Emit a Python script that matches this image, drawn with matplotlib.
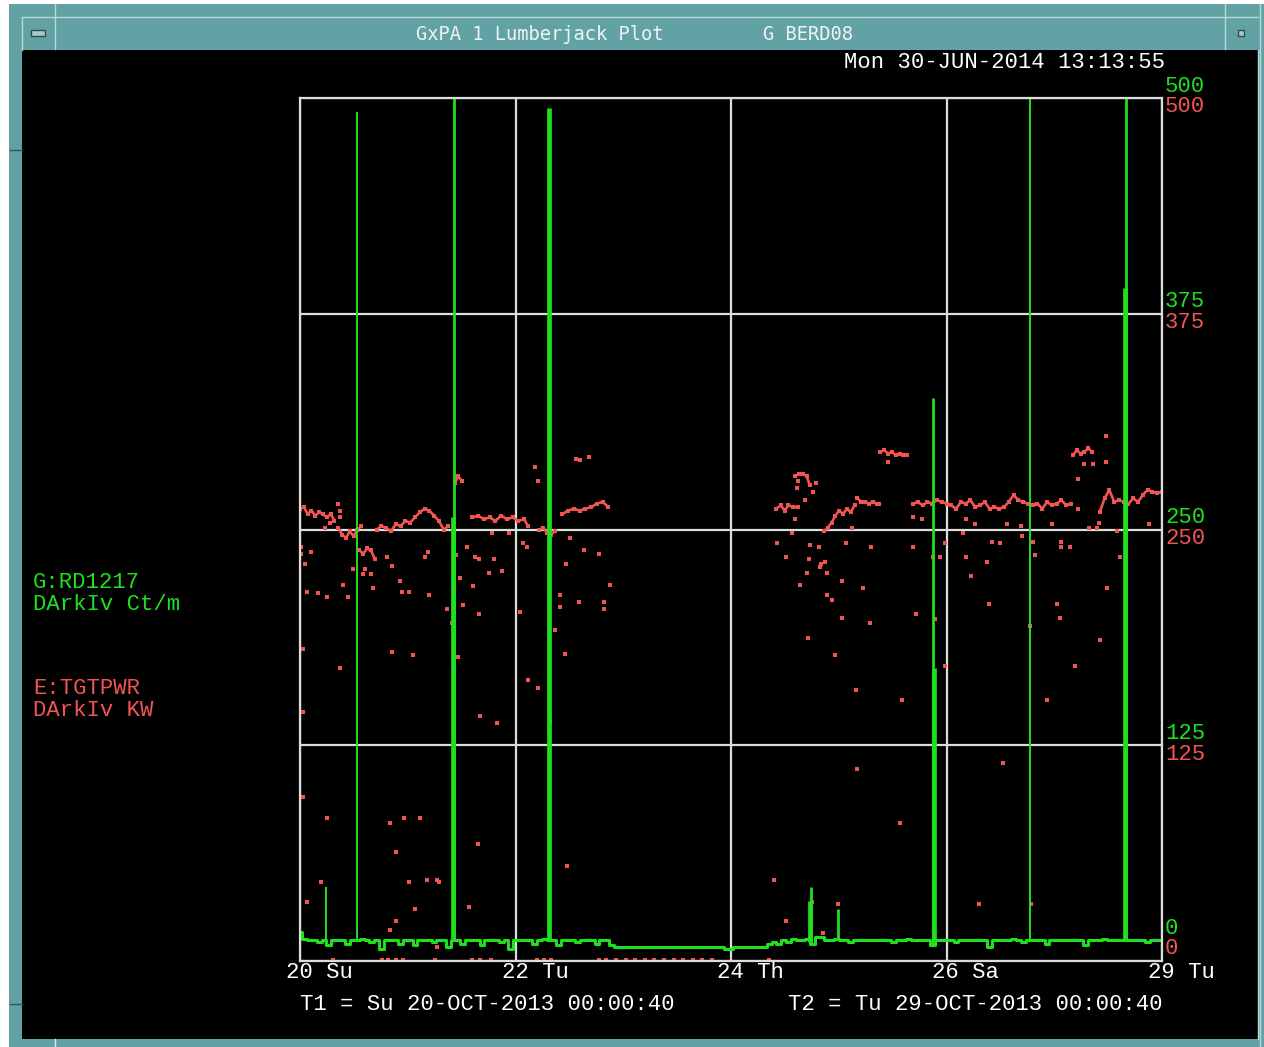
import numpy as np
import matplotlib.pyplot as plt
from matplotlib.patches import Rectangle

# ---- data : time in days after T1 (Su 20-OCT-2013 00:00:40), 9 days span
x_ticks = [0, 2.25, 4.5, 6.75, 9]
x_labels = ["20 Su", "22 Tu", "24 Th", "26 Sa", "29 Tu"]
y_ticks = [0, 125, 250, 375, 500]

# G:RD1217 baseline, one sample every 0.05 day
base_v = [17, 13, 12, 12, 11, 12, 9, 12, 12, 12, 10, 12, 12, 13, 12, 11, 12, 7, 12, 12,
          12, 10, 12, 12, 9, 12, 12, 12, 11, 12, 12, 8, 12, 12, 10, 12, 12, 12, 9, 12,
          12, 12, 11, 12, 7, 12, 12, 12, 12, 10, 12, 13, 12, 12, 9, 12, 12, 12, 11, 12,
          12, 12, 10, 12, 12, 9, 8, 8, 8, 8, 8, 8, 8, 8, 8, 8, 8, 8, 8, 8,
          8, 8, 8, 8, 8, 8, 8, 8, 8, 7, 7, 8, 8, 8, 8, 8, 8, 8, 10, 11,
          10, 12, 11, 13, 12, 12, 13, 10, 14, 14, 12, 12, 13, 12, 12, 11, 12, 12, 12, 12,
          12, 12, 12, 12, 11, 12, 12, 13, 12, 12, 12, 12, 9, 12, 12, 12, 12, 11, 12, 12,
          12, 12, 12, 12, 8, 12, 12, 12, 12, 13, 12, 11, 12, 12, 12, 12, 10, 12, 12, 12,
          12, 12, 12, 12, 9, 12, 12, 12, 13, 12, 12, 12, 12, 12, 12, 12, 12, 11, 12, 12,
          12]
base_t = np.arange(len(base_v)) * 0.05

# spikes of G:RD1217
spk_thin_t = [0.27, 0.60, 7.62]
spk_thin_v = [43, 492, 520]
spk_mid_t = [1.61, 5.34, 5.62, 6.61, 8.62]
spk_mid_v = [520, 43, 30, 326, 520]
spk_wide_t = [1.60, 2.60, 5.33, 6.62, 8.61]
spk_wide_v = [257, 494, 35, 170, 390]

# E:TGTPWR traces (runs of consecutive samples)
red_seg_t = [
    [0.00, 0.04, 0.08, 0.12, 0.16, 0.20, 0.24, 0.28, 0.32, 0.36],
    [0.40, 0.44, 0.48, 0.52, 0.56, 0.60, 0.64],
    [0.62, 0.66, 0.70, 0.74, 0.78],
    [0.80, 0.85, 0.90, 0.95, 1.00, 1.05, 1.10, 1.15, 1.20, 1.25, 1.30, 1.35, 1.40, 1.45, 1.50, 1.55],
    [1.62, 1.65, 1.69],
    [1.80, 1.86, 1.92, 1.98, 2.04, 2.10, 2.16, 2.22, 2.28, 2.34, 2.38],
    [2.50, 2.54, 2.58, 2.62, 2.66],
    [2.74, 2.80, 2.86, 2.92, 2.98, 3.04, 3.10, 3.16, 3.22],
    [2.88, 2.92],
    [4.97, 5.02, 5.06, 5.10, 5.15, 5.20],
    [5.17, 5.21, 5.25, 5.29, 5.32],
    [5.47, 5.51, 5.55, 5.59, 5.63, 5.67, 5.71, 5.75, 5.79],
    [5.82, 5.86, 5.90, 5.94, 5.98, 6.02, 6.05],
    [6.06, 6.10, 6.14, 6.18, 6.22, 6.26, 6.30, 6.34],
    [6.40, 6.45, 6.50, 6.55, 6.60, 6.65, 6.70, 6.75, 6.80, 6.85, 6.90, 6.95, 7.00, 7.05, 7.10,
     7.15, 7.20, 7.25, 7.30, 7.35, 7.40, 7.45, 7.50, 7.55, 7.60, 7.65, 7.70, 7.75, 7.80, 7.85,
     7.90, 7.95, 8.00, 8.05],
    [8.07, 8.11, 8.15, 8.19, 8.23, 8.27],
    [8.35, 8.40, 8.45, 8.50, 8.55, 8.60, 8.65, 8.70, 8.75, 8.80, 8.85, 8.90, 8.95, 9.00],
]
red_seg_v = [
    [262, 263, 259, 261, 258, 260, 259, 257, 259, 255],
    [251, 247, 245, 249, 246, 250, 252],
    [238, 236, 239, 238, 233],
    [250, 252, 251, 249, 253, 252, 255, 254, 257, 260, 262, 261, 258, 255, 250, 252],
    [277, 281, 278],
    [257, 258, 256, 257, 255, 258, 256, 257, 255, 256, 252],
    [250, 251, 248, 247, 249],
    [259, 261, 262, 261, 262, 263, 265, 266, 263],
    [291, 290],
    [262, 264, 261, 264, 263, 263],
    [281, 282, 282, 281, 276],
    [249, 251, 254, 258, 261, 259, 262, 260, 264],
    [268, 266, 266, 265, 266, 265, 265],
    [295, 296, 294, 295, 293, 294, 293, 293],
    [265, 266, 264, 266, 265, 267, 266, 265, 264, 262, 266, 265, 267, 263, 264,
     266, 262, 263, 262, 263, 266, 270, 267, 266, 265, 264, 265, 262, 266, 264,
     265, 267, 264, 265],
    [293, 296, 294, 295, 297, 295],
    [260, 268, 273, 266, 267, 266, 265, 268, 266, 270, 273, 272, 271, 272],
]

# E:TGTPWR isolated samples
red_dot_t = [0.01, 0.01, 0.40, 0.42, 0.42, 0.31, 0.26, 0.11, 0.05, 0.45, 0.07, 0.19, 0.28, 0.50,
             0.55, 0.74, 0.76, 0.91, 0.96, 1.04, 1.06, 1.14, 1.30, 1.34, 1.35, 1.54, 1.63, 1.67,
             1.70, 1.74, 1.81, 1.83, 1.87, 1.87, 1.97, 2.03, 2.11, 2.00, 2.18, 2.33, 2.37, 2.82,
             2.78, 2.97, 3.12, 3.24, 2.71, 2.71, 2.91, 3.17, 3.17, 2.45, 2.48, 3.02, 0.68, 0.66,
             0.03, 0.03, 0.42, 0.96, 1.18, 1.59, 1.65, 1.88, 2.06, 2.38, 2.30, 2.66, 2.77, 2.48,
             2.61, 0.03, 0.28, 0.94, 1.09, 1.25, 1.00, 1.43, 1.86, 1.20, 0.94, 2.79, 0.07, 0.22,
             1.00, 1.14, 1.33, 1.45, 1.76, 1.43,
             4.98, 5.07, 5.22, 5.17, 5.27, 5.19, 5.20, 5.39, 5.36, 5.33, 5.42, 5.31, 5.43, 5.44,
             5.48, 5.29, 5.50, 5.66, 5.50, 5.55, 5.66, 5.14, 5.70, 5.76, 5.88, 5.96, 6.40, 6.43,
             6.61, 6.68, 6.73, 6.92, 6.95, 7.17, 7.01, 7.19, 7.23, 7.31, 7.54, 7.65, 7.67, 7.90,
             7.94, 7.95, 7.95, 8.04, 8.43, 8.56, 8.86, 8.24, 8.32, 8.53, 8.12, 8.42, 8.42, 8.19,
             8.28, 6.14, 8.34, 7.85, 7.05, 6.95, 8.12, 6.40, 6.49, 7.38, 7.53,
             5.30, 5.59, 5.80, 5.95, 5.82, 6.26, 6.29, 6.63, 6.73, 7.34, 7.62, 7.80, 8.09, 8.35,
             4.95, 5.07, 5.35, 5.46, 5.62, 7.09, 7.63, 8.62]
red_dot_v = [240, 236, 265, 261, 257, 254, 251, 237, 230, 218, 214, 213, 211, 211,
             227, 224, 216, 234, 229, 220, 214, 214, 234, 237, 212, 204, 235, 222,
             206, 240, 217, 234, 233, 201, 225, 233, 226, 248, 248, 242, 240, 245,
             230, 238, 236, 218, 212, 205, 208, 208, 204, 286, 278, 292, 227, 224,
             181, 144, 170, 179, 177, 196, 176, 142, 138, 163, 202, 192, 178, 158,
             139, 95, 83, 80, 83, 83, 63, 47, 68, 30, 18, 55, 34, 46,
             23, 46, 47, 46, 31, 8,
             242, 234, 218, 256, 267, 274, 278, 277, 272, 241, 240, 233, 228, 230,
             231, 225, 225, 220, 212, 209, 199, 248, 242, 251, 216, 240, 240, 201,
             234, 234, 242, 248, 234, 231, 223, 207, 243, 242, 246, 243, 235, 207,
             199, 243, 240, 240, 216, 234, 253, 251, 251, 249, 279, 304, 289, 288,
             288, 289, 254, 253, 253, 256, 262, 257, 256, 253, 252,
             187, 177, 157, 196, 111, 80, 151, 198, 171, 115, 194, 151, 171, 186,
             47, 23, 34, 16, 33, 33, 33, 16]

# E:TGTPWR samples lying on the zero line
red_zero_t = [0.34, 0.86, 0.92, 1.00, 1.08, 1.41, 1.80, 1.88, 1.99, 2.47, 2.55, 2.62,
              3.12, 3.20, 3.30, 3.40, 3.50, 3.60, 3.70, 3.80, 3.90, 4.00, 4.10, 4.20, 4.30, 4.90]
red_zero_v = [0.5] * len(red_zero_t)

GREEN = '#1fe01f'
RED = '#f25454'
GRID = '#dcdcdc'
TEAL = '#62a2a4'
MONO = ['Liberation Mono', 'DejaVu Sans Mono']
FS = 16

W, H = 1264, 1047
fig = plt.figure(figsize=(W / 100, H / 100), dpi=100, facecolor='white')

# window frame drawn in pixel coordinates
bg = fig.add_axes([0, 0, 1, 1])
bg.set_xlim(0, W)
bg.set_ylim(H, 0)
bg.axis('off')
bg.add_patch(Rectangle((9, 4), W - 9, H - 4, color=TEAL, lw=0))
bg.add_patch(Rectangle((22, 50), 1236, 989, color='black', lw=0))
for (x0, y0, x1, y1) in [(22, 17, 1258, 17), (22, 17, 22, 50), (55, 4, 55, 49),
                         (1225, 4, 1225, 49), (1258, 50, 1258, 1039), (1260, 4, 1260, 1047)]:
    bg.plot([x0, x1], [y0, y1], color='#b9d8d8', lw=1)
bg.plot([10, 22], [1004, 1004], color='#2f5a5a', lw=1)
bg.plot([55, 55], [1039, 1047], color='#d8ecec', lw=1)
bg.plot([10, 22], [150, 150], color='#2f5a5a', lw=1)
bg.add_patch(Rectangle((31, 30), 14, 6, facecolor='#a9c9c9', edgecolor='#2f4f4f', lw=1))
bg.add_patch(Rectangle((1238, 30), 6, 6, facecolor='#a9c9c9', edgecolor='#2f4f4f', lw=1))

bg.text(540, 35, "GxPA 1 Lumberjack Plot", color='#eef4f4', fontsize=13.5,
        family=['DejaVu Sans Mono'], ha='center', va='center')
bg.text(808, 35, "G BERD08", color='#eef4f4', fontsize=13.5,
        family=['DejaVu Sans Mono'], ha='center', va='center')
bg.text(1165, 63, "Mon 30-JUN-2014 13:13:55", color='white', fontsize=FS,
        family=MONO, ha='right', va='center')

bg.text(33, 582, "G:RD1217", color=GREEN, fontsize=FS, family=MONO, va='center')
bg.text(33, 604, "DArkIv Ct/m", color=GREEN, fontsize=FS, family=MONO, va='center')
bg.text(33, 689, "E:TGTPWR", color=RED, fontsize=FS, family=MONO, va='center')
bg.text(33, 711, "DArkIv KW", color=RED, fontsize=FS, family=MONO, va='center')

bg.text(300, 1005, "T1 = Su 20-OCT-2013 00:00:40", color='white', fontsize=FS,
        family=MONO, va='center')
bg.text(1162, 1005, "T2 = Tu 29-OCT-2013 00:00:40", color='white', fontsize=FS,
        family=MONO, va='center', ha='right')

# plot area
ax = fig.add_axes([300 / W, 1 - 961 / H, 862 / W, 863 / H])
ax.set_facecolor('black')
ax.set_xlim(0, 9)
ax.set_ylim(0, 500)
for s in ax.spines.values():
    s.set_color(GRID)
    s.set_linewidth(1.6)
ax.set_xticks(x_ticks)
ax.set_yticks(y_ticks)
ax.grid(True, color=GRID, lw=1.6)
ax.tick_params(length=0, labelbottom=False, labelleft=False)
ax.set_axisbelow(True)

# red series
seg_t, seg_v = [], []
for tt, vv in zip(red_seg_t, red_seg_v):
    seg_t += tt + [np.nan]
    seg_v += vv + [np.nan]
ax.plot(seg_t, seg_v, color=RED, lw=1.9, marker='s', ms=2.8, mew=0)
ax.plot(red_dot_t, red_dot_v, ls='none', color=RED, marker='s', ms=2.5, mew=0)
ax.plot(red_zero_t, red_zero_v, ls='none', color=RED, marker='s', ms=2.5, mew=0)

# green series
ax.plot(base_t, base_v, color=GREEN, lw=2.2, drawstyle='steps-mid')
for tt, vv, lw in [(spk_thin_t, spk_thin_v, 1.4), (spk_mid_t, spk_mid_v, 2.0),
                   (spk_wide_t, spk_wide_v, 3.4)]:
    ax.vlines(tt, np.interp(tt, base_t, base_v), vv, color=GREEN, lw=lw)

# axis labels
for t, lbl in zip(x_ticks, x_labels):
    ax.annotate(lbl, (t, 0), xycoords=('data', 'axes fraction'), xytext=(-14, -12),
                textcoords='offset pixels', ha='left', va='center', color='white',
                fontsize=FS, family=MONO, annotation_clip=False)
for v in y_ticks:
    up, dn = (33, 13) if v == 0 else (12, -9)
    ax.annotate(str(v), (1, v), xycoords=('axes fraction', 'data'), xytext=(3, up),
                textcoords='offset pixels', ha='left', va='center', color=GREEN,
                fontsize=FS, family=MONO, annotation_clip=False)
    ax.annotate(str(v), (1, v), xycoords=('axes fraction', 'data'), xytext=(3, dn),
                textcoords='offset pixels', ha='left', va='center', color=RED,
                fontsize=FS, family=MONO, annotation_clip=False)

fig.savefig('out.png', dpi=100, facecolor='white')
